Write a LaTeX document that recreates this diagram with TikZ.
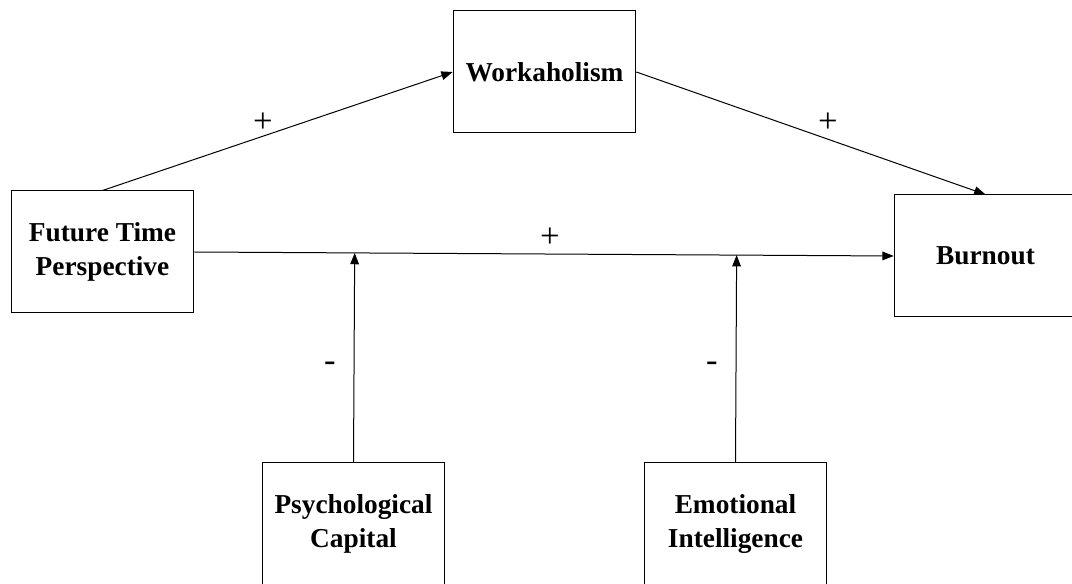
\documentclass[tikz,border=0pt]{standalone}
\usepackage{fontspec}
\setmainfont{Liberation Serif}
\usetikzlibrary{positioning,arrows.meta,calc}
\tikzset{
  box/.style={draw,align=center,inner sep=4pt,minimum width=137pt,minimum height=91.5pt,
    font=\fontsize{20.5}{25}\selectfont\bfseries,line width=0.75pt},
  arr/.style={-{Triangle[length=8.5pt,width=6.5pt]},line width=0.75pt},
  sign/.style={font=\fontsize{26}{30}\selectfont,inner sep=0pt}
}

\begin{document}
\begin{tikzpicture}[x=0.75pt,y=-0.75pt]
\useasboundingbox (0,0) rectangle (1072,584);
\node[box] (ftp) at (102.5,252) {Future Time\\Perspective};
\node[box] (wk) at (544.5,72) {Workaholism};
\node[box] (bo) at (985.5,256) {Burnout};
\node[box] (pc) at (353.5,524) {Psychological\\Capital};
\node[box] (ei) at (735.5,524) {Emotional\\Intelligence};

% moderation points on the direct path
\coordinate (m1) at ($(ftp.east)!(pc.north)!(bo.west)$);
\coordinate (m2) at ($(ftp.east)!(ei.north)!(bo.west)$);

\draw[arr] (ftp.north) -- (wk.west);
\draw[arr] (wk.east) -- (bo.north);
\draw[arr] (ftp.east) -- (bo.west);
\draw[arr] (pc.north) -- (m1);
\draw[arr] (ei.north) -- (m2);

\node[sign] (s1) at (263,123) {+};
\node[sign] (s2) at (828,123) {+};
\node[sign] (s3) at (550,238) {+};
\node[sign] (s4) at (330,367) {-};
\node[sign] (s5) at (712,367) {-};
\end{tikzpicture}
\end{document}
